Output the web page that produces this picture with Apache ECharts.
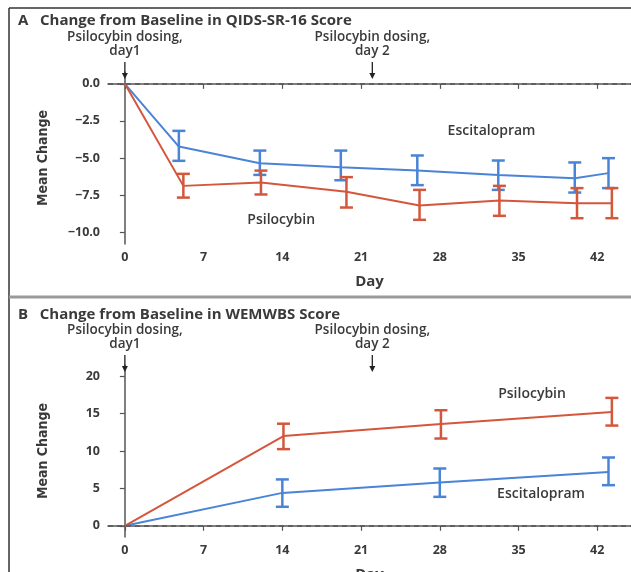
<!DOCTYPE html>
<html>
<head>
<meta charset="utf-8">
<script src="https://cdn.jsdelivr.net/npm/echarts@6/dist/echarts.min.js"></script>
<style>
  html, body { margin: 0; padding: 0; background: #fff; }
  #chart { width: 631px; height: 572px; }
</style>
</head>
<body>
<div id="chart"></div>
<script>
// Panel A: QIDS-SR-16 change from baseline
const daysEscA = [0, 4.8, 12, 19.2, 26, 33.2, 40, 43];
const escA = [0, -4.23, -5.35, -5.62, -5.85, -6.14, -6.36, -6.02];
const escAHi = [null, -3.17, -4.5, -4.5, -4.83, -5.17, -5.3, -5.01];
const escALo = [null, -5.19, -6.14, -6.5, -6.83, -7.15, -7.33, -7.03];
const daysPsiA = [0, 5.2, 12.1, 19.7, 26.2, 33.3, 40.2, 43.3];
const psiA = [0, -6.88, -6.65, -7.28, -8.2, -7.87, -8.05, -8.05];
const psiAHi = [null, -6.07, -5.85, -6.29, -7.15, -6.88, -7.03, -7.03];
const psiALo = [null, -7.67, -7.46, -8.34, -9.17, -8.9, -9.06, -9.06];

// Panel B: WEMWBS change from baseline
const daysEscB = [0, 14, 28, 43];
const escB = [0, 4.4, 5.8, 7.2];
const escBHi = [null, 6.2, 7.66, 9.13];
const escBLo = [null, 2.54, 3.87, 5.43];
const daysPsiB = [0, 14.1, 28.1, 43.3];
const psiB = [0, 12.0, 13.6, 15.2];
const psiBHi = [null, 13.65, 15.45, 17.1];
const psiBLo = [null, 10.25, 11.67, 13.4];

const dayTicks = [0, 7, 14, 21, 28, 35, 42];
const ticksA = [0, -2.5, -5, -7.5, -10];
const ticksB = [0, 5, 10, 15, 20];
const dosingDays = [0, 22];
const dosingText = ["Psilocybin dosing,\nday1", "Psilocybin dosing,\nday 2"];

// series name labels, placed in data coordinates
const namesA = ["Escitalopram", "Psilocybin"];
const namePosA = [[32.6, -3.2], [13.9, -9.2]];
const namesB = ["Psilocybin", "Escitalopram"];
const namePosB = [[36.2, 17.6], [37, 4.3]];

const blue = "#4a84d6";
const red = "#d4563b";
const txt = "#3a3a3a";

const pairs = (xs, ys) => xs.map((x, i) => [x, ys[i]]);
const bars = (xs, lo, hi) =>
  xs.map((x, i) => [x, lo[i], hi[i]]).filter(d => d[1] != null);

function errorBar(color) {
  return function (params, api) {
    const x = api.value(0);
    const lo = api.coord([x, api.value(1)]);
    const hi = api.coord([x, api.value(2)]);
    const w = 6.5;
    const style = { stroke: color, lineWidth: 2.5 };
    return {
      type: "group",
      children: [
        { type: "line", shape: { x1: lo[0], y1: lo[1], x2: hi[0], y2: hi[1] }, style },
        { type: "line", shape: { x1: lo[0] - w, y1: lo[1], x2: lo[0] + w, y2: lo[1] }, style },
        { type: "line", shape: { x1: hi[0] - w, y1: hi[1], x2: hi[0] + w, y2: hi[1] }, style }
      ]
    };
  };
}

function dosingMarks(params, api) {
  const p = api.coord([api.value(0), api.value(1)]);
  const x = p[0], y = p[1];
  const label = dosingText[params.dataIndex];
  return {
    type: "group",
    children: [
      { type: "text", style: { text: label, x: x, y: y - 14, align: "center", verticalAlign: "bottom",
        fill: txt, font: "600 13.5px 'Open Sans'", lineHeight: 14 } },
      { type: "line", shape: { x1: x, y1: y - 10, x2: x, y2: y + 3 }, style: { stroke: "#222", lineWidth: 1.3 } },
      { type: "polygon", shape: { points: [[x - 3, y + 1], [x + 3, y + 1], [x, y + 7]] }, style: { fill: "#222" } }
    ]
  };
}

function seriesText(names) {
  return function (params, api) {
    const p = api.coord([api.value(0), api.value(1)]);
    return {
      type: "text",
      style: { text: names[params.dataIndex], x: p[0], y: p[1], align: "center", verticalAlign: "middle",
        fill: txt, font: "600 14px 'Open Sans'" }
    };
  };
}

const zeroLine = {
  silent: true, symbol: "none", label: { show: false },
  lineStyle: { type: [5, 4], color: "#555", width: 1.5 },
  data: [{ yAxis: 0 }]
};

const axisText = { color: txt, fontSize: 12.5, fontWeight: "bold", fontFamily: "Open Sans" };
const axisLineStyle = { lineStyle: { color: "#555", width: 1.5 } };

function xAxisFor(gridIndex) {
  return {
    type: "value", gridIndex, min: -1.5, max: 45,
    axisLine: axisLineStyle,
    axisTick: { show: true, length: 5, customValues: dayTicks, lineStyle: { color: "#555", width: 1.2 } },
    axisLabel: Object.assign({ customValues: dayTicks, margin: 7 }, axisText),
    splitLine: { show: false },
    name: "Day", nameLocation: "middle", nameGap: 30,
    nameTextStyle: { color: txt, fontSize: 15, fontWeight: "bold", fontFamily: "Open Sans" }
  };
}

function yAxisFor(gridIndex, min, max, ticks, fmt) {
  return {
    type: "value", gridIndex, min, max,
    axisLine: { show: true, lineStyle: { color: "#555", width: 1.5 } },
    axisTick: { show: true, length: 5, customValues: ticks, lineStyle: { color: "#555", width: 1.2 } },
    axisLabel: Object.assign({ customValues: ticks, margin: 8, formatter: fmt }, axisText),
    splitLine: { show: false },
    name: "Mean Change", nameLocation: "middle", nameGap: 58, nameRotate: 90,
    nameTextStyle: { color: txt, fontSize: 14, fontWeight: "bold",
      fontFamily: "'DejaVu Sans Condensed', 'Liberation Sans', sans-serif" }
  };
}

const chart = echarts.init(document.getElementById("chart"));
chart.setOption({
  backgroundColor: "#fff",
  animation: false,
  title: [
    { text: "A   Change from Baseline in QIDS-SR-16 Score", left: 13, top: 8,
      textStyle: { color: txt, fontSize: 15, fontWeight: "bold", fontFamily: "Open Sans" } },
    { text: "B   Change from Baseline in WEMWBS Score", left: 13, top: 302,
      textStyle: { color: txt, fontSize: 15, fontWeight: "bold", fontFamily: "Open Sans" } }
  ],
  graphic: [
    { type: "line", shape: { x1: 9, y1: 8, x2: 631, y2: 8 }, style: { stroke: "#333", lineWidth: 1.5 } },
    { type: "line", shape: { x1: 9, y1: 8, x2: 9, y2: 572 }, style: { stroke: "#333", lineWidth: 1.5 } },
    { type: "line", shape: { x1: 9, y1: 297, x2: 631, y2: 297 }, style: { stroke: "#999", lineWidth: 3 } }
  ],
  grid: [
    { left: 108, right: 0, top: 72, height: 172, outerBoundsMode: "none", containLabel: false },
    { left: 108, right: 0, top: 365, height: 172, outerBoundsMode: "none", containLabel: false }
  ],
  xAxis: [xAxisFor(0), xAxisFor(1)],
  yAxis: [
    yAxisFor(0, -10.8, 0.8, ticksA, v => v.toFixed(1).replace("-", "\u2212")),
    yAxisFor(1, -1.5, 21.5, ticksB, v => String(v))
  ],
  series: [
    { type: "line", xAxisIndex: 0, yAxisIndex: 0, data: pairs(daysEscA, escA), symbol: "none",
      lineStyle: { color: blue, width: 2 }, markLine: zeroLine, z: 3 },
    { type: "line", xAxisIndex: 0, yAxisIndex: 0, data: pairs(daysPsiA, psiA), symbol: "none",
      lineStyle: { color: red, width: 2 }, z: 3 },
    { type: "custom", xAxisIndex: 0, yAxisIndex: 0, data: bars(daysEscA, escALo, escAHi),
      renderItem: errorBar(blue), z: 4 },
    { type: "custom", xAxisIndex: 0, yAxisIndex: 0, data: bars(daysPsiA, psiALo, psiAHi),
      renderItem: errorBar(red), z: 4 },
    { type: "custom", xAxisIndex: 0, yAxisIndex: 0, clip: false,
      data: dosingDays.map(d => [d, 0.8]), renderItem: dosingMarks },
    { type: "custom", xAxisIndex: 0, yAxisIndex: 0, data: namePosA, renderItem: seriesText(namesA) },

    { type: "line", xAxisIndex: 1, yAxisIndex: 1, data: pairs(daysEscB, escB), symbol: "none",
      lineStyle: { color: blue, width: 2 }, markLine: zeroLine, z: 3 },
    { type: "line", xAxisIndex: 1, yAxisIndex: 1, data: pairs(daysPsiB, psiB), symbol: "none",
      lineStyle: { color: red, width: 2 }, z: 3 },
    { type: "custom", xAxisIndex: 1, yAxisIndex: 1, data: bars(daysEscB, escBLo, escBHi),
      renderItem: errorBar(blue), z: 4 },
    { type: "custom", xAxisIndex: 1, yAxisIndex: 1, data: bars(daysPsiB, psiBLo, psiBHi),
      renderItem: errorBar(red), z: 4 },
    { type: "custom", xAxisIndex: 1, yAxisIndex: 1, clip: false,
      data: dosingDays.map(d => [d, 21.5]), renderItem: dosingMarks },
    { type: "custom", xAxisIndex: 1, yAxisIndex: 1, data: namePosB, renderItem: seriesText(namesB) }
  ]
});
</script>
</body>
</html>
